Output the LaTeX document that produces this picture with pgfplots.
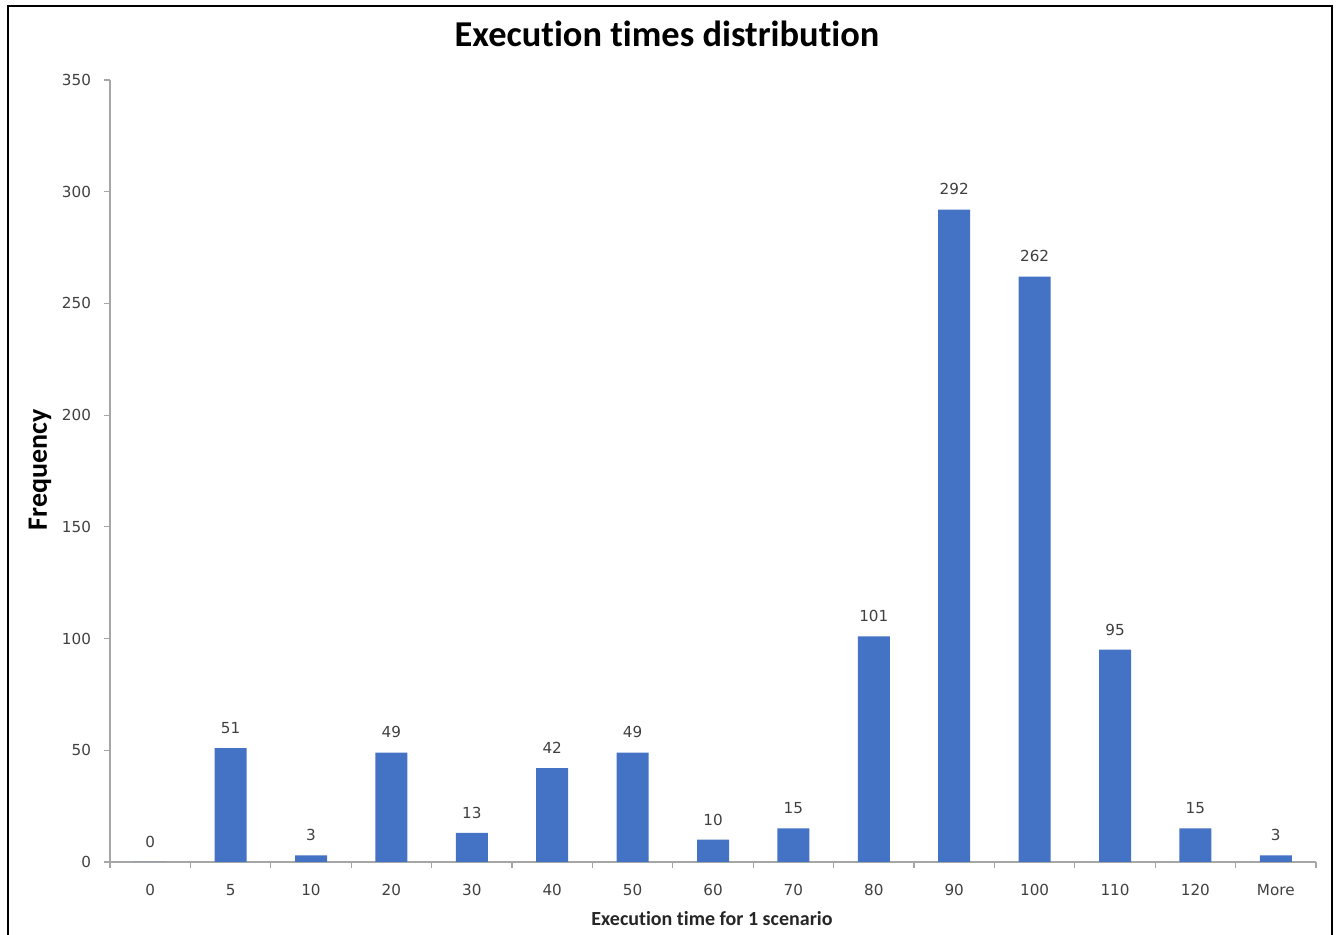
\documentclass[border=0pt]{standalone}
\usepackage{pgfplots}
\pgfplotsset{compat=1.18}
\usepackage{fontspec}
\setmainfont[Ligatures=NoCommon]{Carlito}
\newfontfamily\numfont{DejaVu Sans}
\definecolor{barblue}{HTML}{4472C4}
\definecolor{axisgray}{HTML}{A6A6A6}
\definecolor{labelgray}{HTML}{404040}

\begin{document}
\begin{tikzpicture}[x=1pt,y=1pt]
\useasboundingbox (0,0) rectangle (669,467.5);
% chart frame
\draw[line width=1pt] (4,0) -- (4,464.5) -- (666,464.5) -- (666,0);
\begin{axis}[
  at={(55pt,36.5pt)}, anchor=south west,
  scale only axis, width=603pt, height=391pt,
  xmin=-0.5, xmax=14.5, ymin=0, ymax=350,
  axis y line*=left, axis x line*=bottom,
  axis line style={axisgray, line width=0.6pt},
  tick align=outside,
  major tick length=3pt, minor tick length=3pt,
  ytick={0,50,...,350},
  ytick style={axisgray, line width=0.6pt},
  xtick={0,...,14},
  xticklabels={0,5,10,20,30,40,50,60,70,80,90,100,110,120,More},
  major x tick style={draw=none},
  minor xtick={-0.5,0.5,...,14.5},
  minor x tick style={draw=axisgray, line width=0.6pt},
  /pgf/number format/assume math mode=true,
  ticklabel style={font=\numfont\fontsize{7.6}{9}\selectfont, text=labelgray},
  xticklabel style={yshift=-4.5pt},
  yticklabel style={xshift=-3pt},
  ybar, bar width=16pt,
  nodes near coords,
  every node near coord/.append style={font=\numfont\fontsize{7.6}{9}\selectfont, text=labelgray, anchor=south, inner sep=0pt, yshift=7pt},
  clip=false,
]
\addplot[fill=barblue, draw=none] coordinates {
  (0,0) (1,51) (2,3) (3,49) (4,13) (5,42) (6,49) (7,10)
  (8,15) (9,101) (10,292) (11,262) (12,95) (13,15) (14,3)
};
\end{axis}
\node[font=\bfseries\fontsize{18.2}{21}\selectfont] at (333.5,450.5) {Execution times distribution};
\node[font=\bfseries\fontsize{10}{12}\selectfont, text=black!85] at (356,8) {Execution time for 1 scenario};
\node[font=\bfseries\fontsize{14}{16}\selectfont, rotate=90] at (20,232.5) {Frequency};
\end{tikzpicture}
\end{document}
